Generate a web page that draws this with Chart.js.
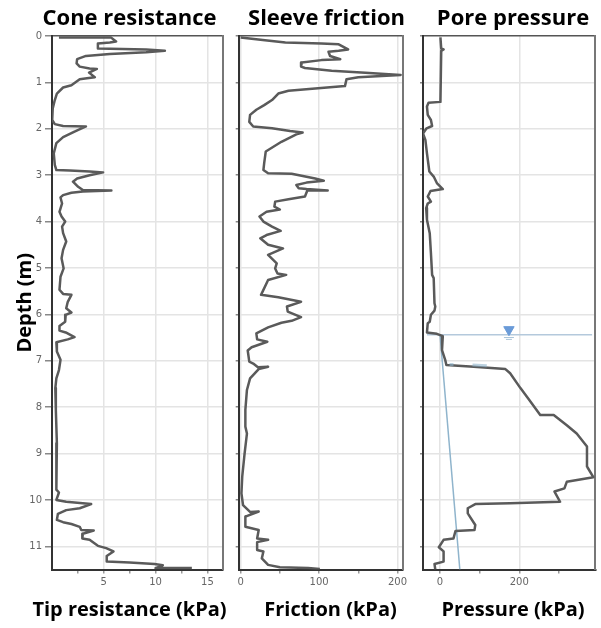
<!DOCTYPE html>
<html>
<head>
<meta charset="utf-8">
<title>CPT log</title>
<script src="https://cdn.jsdelivr.net/npm/chart.js@4/dist/chart.umd.min.js"></script>
<style>
    html, body { margin: 0; padding: 0; background: #fff; overflow: hidden; width: 601px; height: 628px; }
    canvas { position: absolute; top: 0; }
</style>
</head>
<body>
<canvas id="coneChart" width="259" height="628" style="left:0"></canvas>
<canvas id="frictionChart" width="193" height="628" style="left:230px"></canvas>
<canvas id="pressureChart" width="194" height="628" style="left:416px"></canvas>
<script>
// Valores
const depthTicks = [0, 1, 2, 3, 4, 5, 6, 7, 8, 9, 10, 11];

const coneTicks = [2.5, 5, 7.5, 10, 12.5, 15];
const coneLabels = ['5', '10', '15'];
const coneDepth = [0.03, 0.03, 0.03, 0.12, 0.14, 0.16, 0.27, 0.29, 0.32, 0.35, 0.39, 0.43, 0.50, 0.59, 0.66, 0.70, 0.71, 0.79, 0.89, 0.91, 0.93, 1.06, 1.11, 1.24, 1.38, 1.56, 1.81, 1.90, 1.94, 1.95, 2.06, 2.18, 2.31, 2.53, 2.78, 2.89, 2.90, 2.92, 2.94, 3.0, 3.07, 3.14, 3.25, 3.32, 3.33, 3.35, 3.38, 3.43, 3.48, 3.61, 3.79, 3.89, 4.0, 4.11, 4.25, 4.43, 4.61, 4.79, 5.01, 5.19, 5.47, 5.56, 5.58, 5.73, 5.87, 5.96, 6.01, 6.16, 6.25, 6.35, 6.39, 6.49, 6.54, 6.60, 6.80, 6.98, 7.2, 7.38, 7.59, 8.06, 8.78, 9.35, 9.78, 9.84, 10.0, 10.04, 10.09, 10.18, 10.22, 10.30, 10.43, 10.48, 10.52, 10.58, 10.65, 10.66, 10.73, 10.83, 10.86, 10.99, 11.04, 11.11, 11.21, 11.33, 11.35, 11.38, 11.41, 11.47, 11.47];
const coneValue = [0.7, 3.0, 5.7, 6.2, 5.6, 4.45, 4.45, 9.1, 10.9, 9.1, 5.6, 3.3, 2.45, 2.4, 2.7, 3.65, 4.35, 3.6, 4.15, 3.4, 2.7, 1.9, 1.1, 0.5, 0.3, 0.1, 0.05, 0.3, 1.1, 3.3, 2.2, 1.1, 0.45, 0.2, 0.3, 0.45, 1.75, 3.65, 4.95, 3.65, 2.45, 2.05, 2.55, 3.0, 5.75, 3.0, 1.9, 1.1, 0.85, 1.0, 0.75, 0.95, 1.3, 1.0, 1.1, 1.4, 1.1, 0.95, 1.15, 0.85, 0.75, 1.1, 1.9, 1.55, 1.4, 1.9, 1.35, 1.3, 0.75, 0.75, 1.35, 2.2, 1.55, 0.45, 0.5, 0.85, 0.7, 0.45, 0.35, 0.4, 0.5, 0.45, 0.45, 0.7, 0.45, 1.4, 3.8, 2.7, 1.4, 0.6, 0.5, 1.1, 1.9, 2.7, 2.85, 4.05, 3.0, 2.95, 3.65, 4.45, 5.25, 5.95, 5.3, 5.3, 7.5, 9.9, 10.7, 10.0, 13.5];

const frictionTicks = [0, 50, 100, 150, 200];
const frictionLabels = ['0', '100', '200'];
const frictionDepth = [0.03, 0.09, 0.14, 0.16, 0.18, 0.29, 0.32, 0.34, 0.43, 0.50, 0.52, 0.57, 0.66, 0.69, 0.75, 0.79, 0.84, 0.86, 0.89, 0.93, 1.08, 1.13, 1.18, 1.24, 1.38, 1.49, 1.59, 1.70, 1.85, 1.95, 1.99, 2.05, 2.08, 2.12, 2.28, 2.49, 2.74, 2.89, 2.96, 2.97, 3.07, 3.12, 3.16, 3.21, 3.28, 3.30, 3.33, 3.33, 3.46, 3.52, 3.57, 3.68, 3.74, 3.79, 3.89, 4.0, 4.11, 4.20, 4.29, 4.36, 4.50, 4.58, 4.72, 4.90, 5.01, 5.12, 5.15, 5.26, 5.58, 5.63, 5.73, 5.83, 5.94, 6.06, 6.14, 6.18, 6.28, 6.41, 6.54, 6.59, 6.71, 6.78, 7.02, 7.06, 7.14, 7.13, 7.18, 7.38, 7.63, 8.06, 8.42, 8.57, 9.0, 9.5, 9.86, 10.11, 10.26, 10.25, 10.36, 10.58, 10.65, 10.83, 10.86, 10.91, 11.08, 11.11, 11.26, 11.40, 11.45, 11.47, 11.49];
const frictionValue = [0, 31, 57, 103, 125, 137, 125, 112, 114, 127, 103, 78, 77, 82, 116, 159, 204, 180, 150, 135, 133, 95, 61, 48, 40, 30, 20, 12, 11, 16, 40, 63, 79, 71, 52, 32, 30, 29, 35, 65, 95, 106, 84, 71, 74, 84, 111, 85, 82, 61, 44, 43, 50, 33, 24, 29, 40, 51, 33, 25, 35, 54, 35, 46, 44, 47, 58, 35, 26, 48, 77, 59, 60, 77, 65, 52, 35, 20, 21, 34, 14, 9, 11, 16, 22, 35, 23, 12, 8, 6, 6, 8, 5, 2, 1, 3, 12, 23, 6, 6, 23, 21, 35, 21, 21, 29, 27, 35, 50, 86, 101];

const pressureTicks = [0, 100, 200, 300];
const pressureLabels = ['0', '200'];
const pressureDepth = [0.03, 0.27, 0.29, 0.32, 1.42, 1.44, 1.52, 1.70, 1.81, 1.94, 1.99, 2.10, 2.24, 2.53, 2.92, 3.03, 3.17, 3.30, 3.34, 3.46, 3.57, 3.61, 3.71, 3.96, 4.25, 4.68, 5.15, 5.22, 5.76, 5.83, 5.92, 6.01, 6.16, 6.19, 6.39, 6.42, 6.47, 6.77, 6.98, 7.09, 7.13, 7.18, 7.27, 7.59, 7.83, 8.17, 8.17, 8.39, 8.57, 8.85, 9.28, 9.51, 9.61, 9.75, 9.82, 10.04, 10.07, 10.09, 10.18, 10.29, 10.54, 10.65, 10.67, 10.83, 10.86, 11.02, 11.11, 11.33, 11.38, 11.5];
const pressureValue = [1, 3, 9, 3, 1, -29, -33, -31, -23, -20, -34, -43, -37, -33, -27, -16, -8, 7, -24, -31, -23, -31, -35, -33, -26, -23, -20, -16, -14, -12, -14, -23, -26, -31, -33, -8, 7, 5, 13, 16, 85, 165, 177, 203, 224, 253, 287, 320, 345, 371, 371, 387, 320, 314, 289, 303, 177, 89, 70, 70, 89, 87, 39, 34, 9, -3, 9, 9, -14, -12];

const waterDepth = [6.44, 6.44];
const waterPressure = [-33, 384];
const hydroDepth = [6.44, 11.5];
const hydroPressure = [0, 50];
const markerDepth = [6.33];
const markerLine1Depth = [6.50];
const markerLine2Depth = [6.54];
const markerPressure = [174];
const smudgeDepth = [7.08, 7.08, null, 7.09, 7.11];
const smudgePressure = [24, 34, null, 82, 118];

const curveColor = '#5a5a5a';
const gridColor = '#e4e4e4';
const tickTextColor = '#666';

function toPoints(xs, ys) {
    return xs.map((x, i) => ({ x: x, y: ys[i] }));
}

function curve(xs, ys) {
    return { data: toPoints(xs, ys), borderColor: curveColor, borderWidth: 2.5, borderJoinStyle: 'round', pointRadius: 0, showLine: true, order: 1 };
}

// Desloca o título de baixo quando não fica centrado com o de cima
const shiftSubtitle = {
    id: 'shiftSubtitle',
    afterLayout(chart, args, opts) {
        chart.boxes.forEach(box => {
            if (box.options && box.options.text === chart.options.plugins.subtitle.text) {
                box.left += opts.dx;
                box.right += opts.dx;
            }
        });
    }
};

// Cria um painel; a área do gráfico é fixada pelos afterFit
function makePanel(id, cfg) {
    return new Chart(document.getElementById(id), {
        type: 'scatter',
        data: { datasets: cfg.datasets },
        plugins: [shiftSubtitle],
        options: {
            responsive: false,
            animation: false,
            layout: { padding: 0 },
            plugins: {
                legend: { display: false },
                tooltip: { enabled: false },
                shiftSubtitle: { dx: cfg.xTitleShift || 0 },
                title: {
                    display: true,
                    text: cfg.title,
                    color: '#000',
                    font: { family: 'Open Sans', size: 22, weight: 'bold', lineHeight: 1.2 },
                    padding: { top: 6, bottom: 3.6 }
                },
                subtitle: {
                    display: true,
                    text: cfg.xTitle,
                    position: 'bottom',
                    color: '#000',
                    font: { family: 'Open Sans', size: 20, weight: 'bold', lineHeight: 1.2 },
                    padding: { top: 0, bottom: 6 }
                }
            },
            scales: {
                x: {
                    type: 'linear',
                    min: cfg.xMin,
                    max: cfg.xMax,
                    afterBuildTicks: scale => { scale.ticks = cfg.xTicks.map(v => ({ value: v })); },
                    afterFit: scale => {
                        scale.height = 28.5;
                        scale.paddingLeft = 0;
                        scale.paddingRight = 0;
                    },
                    border: { color: '#333', width: 2 },
                    grid: {
                        lineWidth: 1.5,
                        tickLength: 4,
                        color: ctx => cfg.xLabels.includes(String(ctx.tick.value)) ? gridColor : 'rgba(0,0,0,0)',
                        tickColor: '#999'
                    },
                    ticks: {
                        color: tickTextColor,
                        font: { family: 'DejaVu Sans', size: 10 },
                        padding: 3,
                        maxRotation: 0,
                        autoSkip: false,
                        callback: v => cfg.xLabels.includes(String(v)) ? String(v) : ''
                    }
                },
                y: {
                    type: 'linear',
                    reverse: true,
                    min: 0,
                    max: 11.5,
                    afterBuildTicks: scale => { scale.ticks = depthTicks.map(v => ({ value: v })); },
                    afterFit: scale => {
                        scale.width = cfg.leftWidth;
                        scale.paddingTop = 0;
                        scale.paddingBottom = 0;
                    },
                    border: { color: '#333', width: 2 },
                    grid: {
                        lineWidth: 1.5,
                        tickLength: cfg.yLabels ? 7 : 3,
                        color: ctx => ctx.tick.value === 0 ? '#555' : gridColor,
                        tickColor: '#888'
                    },
                    ticks: {
                        color: tickTextColor,
                        font: { family: 'DejaVu Sans', size: 10 },
                        padding: 3,
                        callback: v => cfg.yLabels ? String(v) : ''
                    },
                    title: {
                        display: !!cfg.yTitle,
                        text: cfg.yTitle || '',
                        color: '#000',
                        font: { family: 'Open Sans', size: 20, weight: 'bold', lineHeight: 1.2 },
                        padding: { top: 13, bottom: 0 }
                    }
                },
                // eixo só para a borda direita e para centrar os títulos
                yRight: {
                    type: 'linear',
                    position: 'right',
                    afterFit: scale => { scale.width = cfg.rightWidth; },
                    border: { color: '#777', width: 2 },
                    grid: { drawOnChartArea: false, drawTicks: false },
                    ticks: { display: false }
                }
            }
        }
    });
}

makePanel('coneChart', {
    title: 'Cone resistance',
    xTitle: 'Tip resistance (kPa)',
    yTitle: 'Depth (m)',
    yLabels: true,
    xMin: 0.03,
    xMax: 16.5,
    xTicks: coneTicks,
    xLabels: coneLabels,
    leftWidth: 52,
    rightWidth: 36,
    datasets: [curve(coneValue, coneDepth)]
});

makePanel('frictionChart', {
    title: 'Sleeve friction',
    xTitle: 'Friction (kPa)',
    xTitleShift: 4,
    yLabels: false,
    xMin: -2.5,
    xMax: 207,
    xTicks: frictionTicks,
    xLabels: frictionLabels,
    leftWidth: 8.7,
    rightWidth: 20,
    datasets: [curve(frictionValue, frictionDepth)]
});

makePanel('pressureChart', {
    title: 'Pore pressure',
    xTitle: 'Pressure (kPa)',
    yLabels: false,
    xMin: -43,
    xMax: 392,
    xTicks: pressureTicks,
    xLabels: pressureLabels,
    leftWidth: 6.8,
    rightWidth: 14.7,
    datasets: [
        { data: toPoints(waterPressure, waterDepth), borderColor: '#b4c9dc', borderWidth: 1.5, pointRadius: 0, showLine: true, order: 3 },
        { data: toPoints(hydroPressure, hydroDepth), borderColor: '#8fb4cc', borderWidth: 1.5, pointRadius: 0, showLine: true, order: 3 },
        curve(pressureValue, pressureDepth),
        { data: toPoints(smudgePressure, smudgeDepth), borderColor: 'rgba(143,180,204,0.6)', borderWidth: 3, pointRadius: 0, showLine: true, order: 0 },
        { data: toPoints(markerPressure, markerDepth), pointStyle: 'triangle', rotation: 180, radius: 6, backgroundColor: '#6a9bd8', borderColor: '#6a9bd8', order: 2 },
        { data: toPoints(markerPressure, markerLine1Depth), pointStyle: 'line', rotation: 0, radius: 5, borderColor: '#a9c4d8', borderWidth: 1, order: 2 },
        { data: toPoints(markerPressure, markerLine2Depth), pointStyle: 'line', rotation: 0, radius: 3, borderColor: '#a9c4d8', borderWidth: 1, order: 2 }
    ]
});
</script>
</body>
</html>
